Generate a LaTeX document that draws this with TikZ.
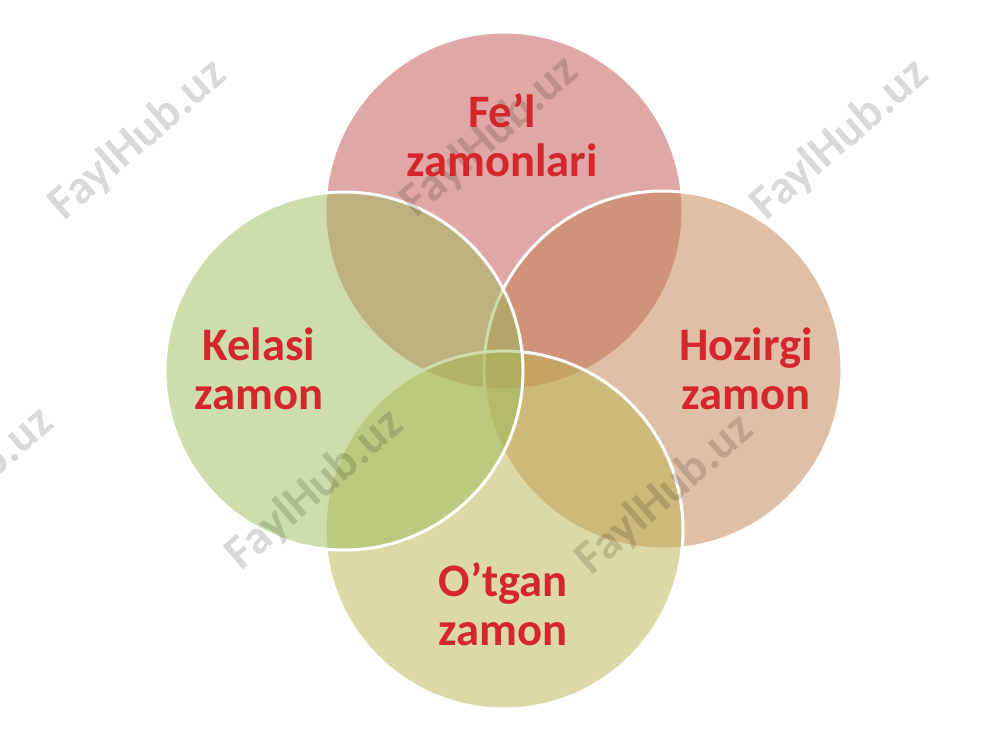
\documentclass[tikz,border=0pt]{standalone}
\usepackage{fontspec}
\setmainfont{Carlito}
\usepackage{xcolor}
\usepackage{tikz}
\usetikzlibrary{positioning}

\definecolor{felred}{RGB}{192,80,77}
\definecolor{hozirgi}{RGB}{192,128,77}
\definecolor{otgan}{RGB}{188,180,78}
\definecolor{kelasi}{RGB}{155,187,89}
\definecolor{labelred}{RGB}{212,38,44}

\tikzset{
  ring/.style={circle, draw=white, line width=1.5pt, fill opacity=.5,
    minimum size=179pt, inner sep=0pt},
  tense/.style={text=labelred, align=center, inner sep=0pt,
    font=\bfseries\fontsize{23.3}{24.5}\selectfont},
  wmark/.style={text=black, text opacity=.15, rotate=41,
    font=\bfseries\fontsize{24}{24}\selectfont}
}

\begin{document}
\begin{tikzpicture}[x=0.5pt, y=-0.5pt]
\useasboundingbox (0,0) rectangle (1000,750);
% four circles
\node[ring, fill=felred]  (fel) at (504,211) {};
\node[ring, fill=hozirgi] (hoz) at (663,370) {};
\node[ring, fill=otgan]   (otg) at (504,530) {};
\node[ring, fill=kelasi]  (kel) at (344,371) {};
% watermark
\foreach \wx/\wy in {138/140, 490/137, 840/140, -35/488, 315/490, 665/495} {
  \node[wmark] (wm-\wx) at (\wx,\wy) {FaylHub.uz};
}
% labels
\node[tense] (felt) at (502,135) {Fe’l\\zamonlari};
\node[tense] (hozt) at (746,369) {Hozirgi\\zamon};
\node[tense] (kelt) at (259,369) {Kelasi\\zamon};
\node[tense] (otgt) at (503,604) {O’tgan\\zamon};
\end{tikzpicture}
\end{document}
